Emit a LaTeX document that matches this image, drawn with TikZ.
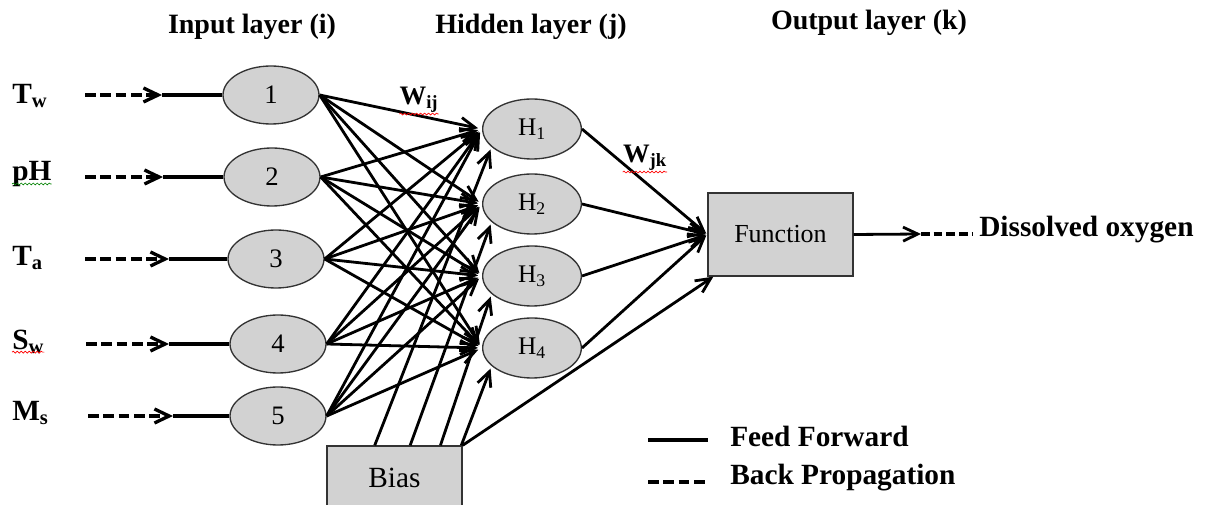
\documentclass[tikz,border=0pt]{standalone}
\usepackage{fontspec}
\setmainfont{Liberation Serif}
\usetikzlibrary{arrows.meta,calc,shapes.geometric,decorations.pathmorphing}
\begin{document}
\begin{tikzpicture}[x=0.75pt,y=-0.75pt,
  neuron/.style={ellipse,draw=black!80,line width=1pt,fill=gray!35,minimum width=72pt,minimum height=43.5pt,inner sep=0pt,font=\fontsize{20}{22}\selectfont},
  hid/.style={neuron,minimum width=74pt,minimum height=45pt,font=\fontsize{19}{22}\selectfont},
  box/.style={rectangle,draw=black!80,line width=1pt,fill=gray!35,inner sep=0pt},
  head/.style={font=\bfseries\fontsize{21}{24}\selectfont,inner sep=0pt},
  lab/.style={font=\bfseries\fontsize{22}{24}\selectfont,inner sep=0pt,anchor=west},
  tip/.style={-{Straight Barb[length=11pt,width=10.5pt]}},
  conn/.style={line width=2.1pt,tip},
  plainline/.style={line width=2.3pt},
  bpline/.style={line width=2.5pt,dash pattern=on 8pt off 3.5pt},
  squig/.style={line width=0.5pt,decorate,decoration={snake,amplitude=0.7pt,segment length=3pt}}
]
\useasboundingbox (0,0) rectangle (1208,505);
\clip (0,0) rectangle (1208,505);

% headings
\node[head] (hin) at (252,27) {Input layer (i)};
\node[head] (hhid) at (531,27) {Hidden layer (j)};
\node[head] (hout) at (869,23) {Output layer (k)};

% input labels
\node[lab] (tw) at (12,96) {T\textsubscript{w}};
\node[lab] (ph) at (12,174) {pH};
\node[lab] (ta) at (12,258) {T\textsubscript{a}};
\node[lab] (sw) at (12,342) {S\textsubscript{w}};
\node[lab] (ms) at (12,413) {M\textsubscript{s}};

% input neurons
\node[neuron] (i1) at (271,95) {1};
\node[neuron] (i2) at (272,177) {2};
\node[neuron] (i3) at (276,259) {3};
\node[neuron] (i4) at (278,344) {4};
\node[neuron] (i5) at (278,416) {5};

% hidden neurons
\node[hid] (h1) at (532,129) {H\textsubscript{1}};
\node[hid] (h2) at (532,204) {H\textsubscript{2}};
\node[hid] (h3) at (532,276) {H\textsubscript{3}};
\node[hid] (h4) at (532,348) {H\textsubscript{4}};

% function and bias
\node[box,minimum width=108.75pt,minimum height=62.25pt,font=\fontsize{19.5}{22}\selectfont] (fn) at (780.5,234.5) {Function};
\node[box,minimum width=101.25pt,minimum height=51pt] (bias) at (394.5,480) {};
\node[inner sep=0pt,font=\fontsize{22}{24}\selectfont] (biastxt) at (394.5,478) {Bias};

% weight labels
\node[inner sep=0pt,font=\bfseries\fontsize{20}{22}\selectfont] (wij) at (419,100) {W\textsubscript{ij}};
\node[inner sep=0pt,font=\bfseries\fontsize{20}{22}\selectfont] (wjk) at (645,158) {W\textsubscript{jk}};

% input arrows
\foreach \n/\y/\a/\e in {1/95/85/162,2/177/85/163,3/259/85/169,4/344/86/169,5/416/88/173}{
  \coordinate (ds\n) at (\a,\y);
  \coordinate (de\n) at (\e,\y);
  \draw[bpline,tip] (ds\n) -- (de\n);
  \draw[plainline] (de\n) -- (i\n.west);
}

% input -> hidden
\foreach \i in {1,...,5}{
  \foreach \j in {1,...,4}{
    \draw[conn,shorten >=3pt] (i\i.east) -- (h\j.west);
  }
}

% bias -> hidden
\coordinate (b1) at ($(bias.north west)!0.355!(bias.north east)$);
\coordinate (b2) at ($(bias.north west)!0.615!(bias.north east)$);
\coordinate (b3) at ($(bias.north west)!0.837!(bias.north east)$);
\coordinate (b4) at ($(bias.north west)!0.99!(bias.north east)$);
\foreach \j in {1,...,4}{
  \draw[conn,shorten >=2pt] (b\j) -- (h\j.204);
}
\coordinate (fnb) at ($(fn.south west)+(6,0)$);
\draw[conn] (bias.north east) -- (fnb);

% hidden -> function
\foreach \j in {1,...,4}{
  \draw[conn,shorten >=1pt] (h\j.east) -- (fn.west);
}

% output
\coordinate (oa) at (921,234);
\coordinate (ob) at (972,234);
\draw[conn] (fn.east) -- (oa);
\draw[bpline,dash pattern=on 6.5pt off 3pt] (oa) -- (ob);
\node[inner sep=0pt,anchor=west,font=\bfseries\fontsize{22}{24}\selectfont] (dox) at (979,230) {Dissolved oxygen};

% legend
\coordinate (l1a) at (648,440);
\coordinate (l1b) at (708,440);
\draw[plainline] (l1a) -- (l1b);
\node[inner sep=0pt,anchor=west,font=\bfseries\fontsize{22}{24}\selectfont] (ff) at (730,436) {Feed Forward};
\coordinate (l2a) at (648,482);
\coordinate (l2b) at (706,482);
\draw[bpline] (l2a) -- (l2b);
\node[inner sep=0pt,anchor=west,font=\bfseries\fontsize{22}{24}\selectfont] (bp) at (730,478) {Back Propagation};

% spell-check squiggles
\draw[squig,red] ($(wij.south west)+(0,1)$) -- ($(wij.south east)+(0,1)$);
\draw[squig,red] ($(wjk.south west)+(0,1)$) -- ($(wjk.south east)+(0,1)$);
\draw[squig,green!50!black] ($(ph.south west)+(0,-3)$) -- ($(ph.south east)+(0,-3)$);
\draw[squig,red] ($(sw.south west)+(0,-2)$) -- ($(sw.south east)+(0,-2)$);
\end{tikzpicture}
\end{document}
